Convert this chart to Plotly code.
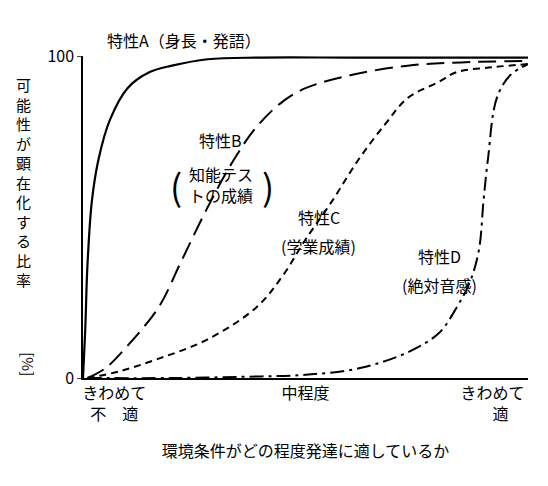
import plotly.graph_objects as go

xA=[0,0.005,0.01,0.02,0.035,0.06,0.1,0.15,0.2,0.28,0.4,0.6,0.8,1.0]
yA=[0,15,35,55,68,80,90,95,97,99,99.5,99.5,99.5,99.5]
xB=[0.01,0.05,0.1,0.17,0.22,0.28,0.34,0.39,0.45,0.5,0.6,0.73,0.85,1.0]
yB=[0,3,10,22,36,53,68,78,86,90,94,97,98,98.5]
xC=[0.01,0.08,0.17,0.28,0.39,0.45,0.5,0.56,0.62,0.68,0.73,0.8,0.84,0.92,1.0]
yC=[0,2,6,12,22,32,43,55,68,79,87,92,95,96.5,97.5]
xD=[0.01,0.2,0.4,0.5,0.62,0.73,0.8,0.84,0.87,0.89,0.9,0.91,0.93,0.96,1.0]
yD=[0,0,0.5,1,3,8,14,22,30,40,55,68,87,94,97.5]

fig=go.Figure()
f=dict(family="Noto Sans CJK JP",color="black")
fig.add_trace(go.Scatter(x=xA,y=yA,mode="lines",line=dict(color="black",width=2.2,shape="spline")))
fig.add_trace(go.Scatter(x=xB,y=yB,mode="lines",line=dict(color="black",width=2,dash="18px,8px",shape="spline")))
fig.add_trace(go.Scatter(x=xC,y=yC,mode="lines",line=dict(color="black",width=2,dash="7px,5px",shape="spline")))
fig.add_trace(go.Scatter(x=xD,y=yD,mode="lines",line=dict(color="black",width=2,dash="14px,5px,3px,5px",shape="spline")))

ann=[("特性B",0.31,74),("知能テス<br>トの成績",0.31,60),
     ("特性C",0.53,50),("(学業成績)",0.53,41),("特性D",0.8,38),("(絶対音感)",0.8,29)]
for t,x,y in ann:
    fig.add_annotation(x=x,y=y,text=t,showarrow=False,font=dict(f,size=16))
fig.add_annotation(xref="paper",yref="paper",x=0.05,y=1.005,text="特性A（身長・発語）",showarrow=False,
                   font=dict(f,size=16),xanchor="left",yanchor="bottom")
fig.add_annotation(x=0.21,y=60,text="(",showarrow=False,font=dict(f,size=36))
fig.add_annotation(x=0.415,y=60,text=")",showarrow=False,font=dict(f,size=36))
ylab="<br>".join("可能性が顕在化する比率")
fig.add_annotation(xref="paper",yref="paper",x=-0.155,y=0.95,text=ylab,showarrow=False,font=dict(f,size=15),
                   yanchor="top",xanchor="left")
fig.add_annotation(xref="paper",yref="paper",x=-0.15,y=0.0,text="[%]",showarrow=False,font=dict(f,size=15),
                   textangle=90,yanchor="bottom",xanchor="left")

fig.update_layout(width=548,height=486,margin=dict(l=75,r=28,t=48,b=116),plot_bgcolor="white",paper_bgcolor="white",showlegend=False,font=f)
fig.update_xaxes(range=[0,1],tickvals=[0.07,0.5,0.92],ticktext=["きわめて<br>不　適","中程度","きわめて<br>　適"],
                 showline=True,linecolor="black",linewidth=1.5,showgrid=False,zeroline=False,tickfont=dict(f,size=16),ticks="",
                 title=dict(text="環境条件がどの程度発達に適しているか",font=dict(f,size=16),standoff=22))
fig.update_yaxes(range=[0,100],tickvals=[0,100],ticktext=["0","100"],showline=True,linecolor="black",linewidth=1.5,
                 showgrid=False,zeroline=False,tickfont=dict(f,size=16),ticks="outside",ticklen=4)
fig.write_html("out.html")
